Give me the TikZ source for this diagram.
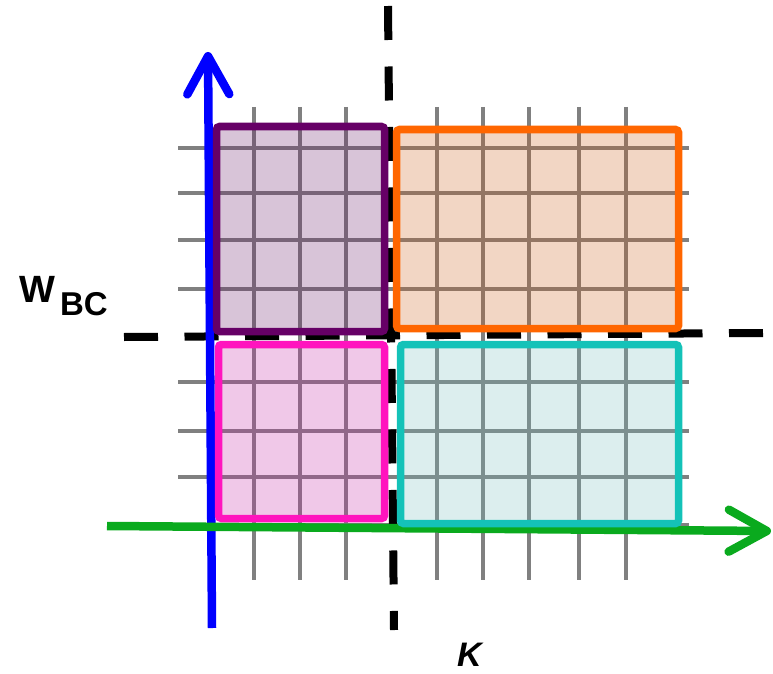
\documentclass[tikz,border=0pt]{standalone}
\usepackage{fontspec}
\setmainfont{Liberation Sans}
\usetikzlibrary{arrows.meta}
\definecolor{boxpurple}{HTML}{660066}
\definecolor{boxorange}{HTML}{FF6600}
\definecolor{boxpink}{HTML}{FF14BE}
\definecolor{boxteal}{HTML}{14C2B8}
\definecolor{fillpurple}{RGB}{100,20,100}
\definecolor{fillorange}{RGB}{204,92,20}
\definecolor{fillpink}{RGB}{196,36,164}
\definecolor{fillteal}{RGB}{116,188,188}
\definecolor{axisgreen}{HTML}{0AAA1E}
\definecolor{gridgray}{HTML}{808080}
\tikzset{
  gridline/.style={gridgray, line width=4.5pt},
  cutline/.style={black, line width=8pt, dash pattern=on 34pt off 26.5pt},
  axisline/.style={line width=8.5pt, -{Straight Barb[length=38pt,width=42pt,round]}},
  region/.style={draw=box#1, fill=fill#1, fill opacity=0.25, line width=7.5pt, rounded corners=3pt}
}

\begin{document}
\begin{tikzpicture}[x=1pt, y=-1pt]
    \useasboundingbox (0,0) rectangle (773,674);

    % Lưới nền
    \foreach \gx in {254,300,346,437,483,529,579,626}
        \draw[gridline] (\gx,107) -- (\gx,580);
    \foreach \gy in {148,193,240,289,382,431,477,525}
        \draw[gridline] (178,\gy) -- (689,\gy);

    % Đường cắt nét đứt
    \coordinate (vtop) at (388,6);
    \coordinate (vbot) at (394,630);
    \coordinate (hleft) at (124,337);
    \coordinate (hright) at (763,333);
    \draw[cutline] (vtop) -- (vbot);
    \draw[cutline] (hleft) -- (hright);

    % Trục
    \coordinate (wstart) at (212,628);
    \coordinate (wend) at (208,52);
    \coordinate (kstart) at (107,526);
    \coordinate (kend) at (771,531);
    \draw[axisline, blue] (wstart) -- (wend);
    \draw[axisline, axisgreen] (kstart) -- (kend);

    % Bốn vùng
    \draw[region=purple] (216.5,126.5) rectangle (384.5,331.5);
    \draw[region=orange] (396.5,129.5) rectangle (678.5,328.5);
    \draw[region=pink]   (218.5,344.5) rectangle (384.5,518.5);
    \draw[region=teal]   (400.5,344.5) rectangle (678.5,523.5);

    % Nhãn trục
    \node[anchor=base west, inner sep=0, font=\bfseries\fontsize{38}{38}\selectfont] (wlabel) at (19,302)
        {W\hspace{5pt}\raisebox{-13pt}{\fontsize{33}{33}\selectfont BC}};
    \node[anchor=base west, inner sep=0, font=\bfseries\itshape\fontsize{34}{34}\selectfont] (klabel) at (457,666) {K};
\end{tikzpicture}
\end{document}
